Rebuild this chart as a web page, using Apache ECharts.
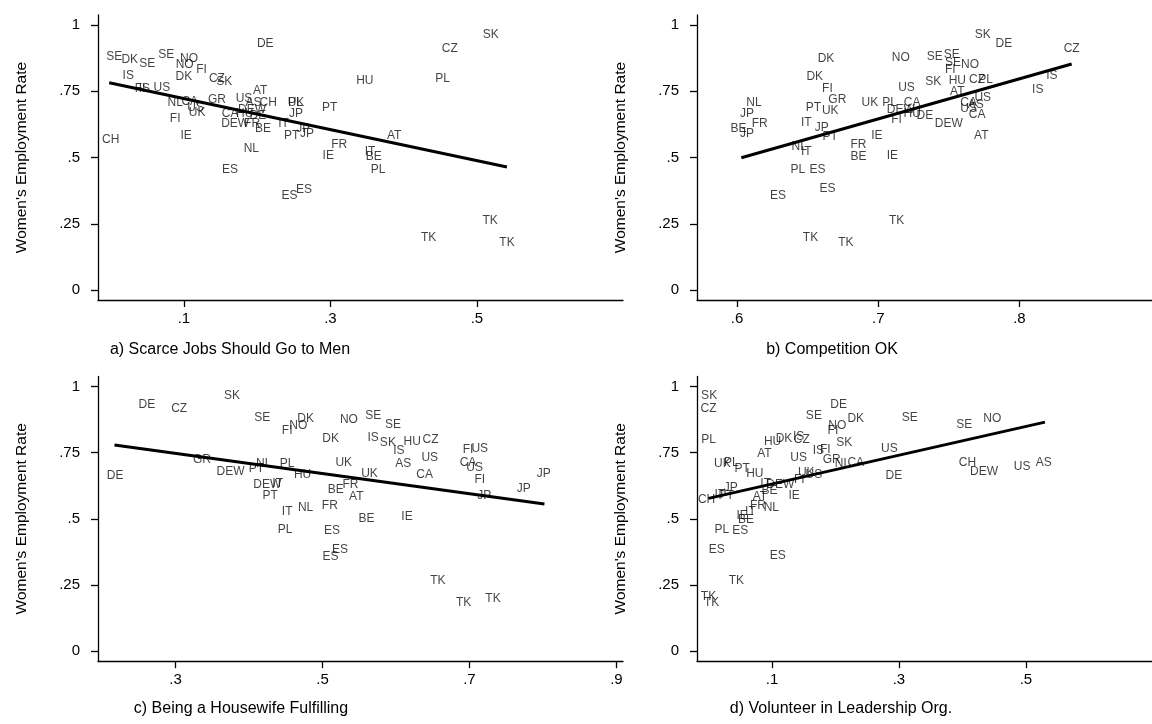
<!DOCTYPE html>
<html><head><meta charset="utf-8">
<script src="https://cdn.jsdelivr.net/npm/echarts@6/dist/echarts.min.js"></script>
<style>html,body{margin:0;padding:0;background:#fff}#c{width:1152px;height:724px}</style>
</head><body><div id="c"></div>
<script>
// Panel a) Scarce Jobs Should Go to Men
const aLabels = ['SE','DK','SE','SE','NO','NO','FI','DK','DE','IS','IS','FI','US','CZ','SK','NL','CA','US','UK','GR','FI','IE','CH','US','AT','AS','CH','CA','HU','DE','DEW','DEW','FR','BE','PL','UK','JP','IT','JP','PT','JP','PT','HU','CZ','SK','PL','AT','FR','IE','IT','BE','PL','NL','ES','ES','ES','TK','TK','TK'];
const aX = [0.005,0.026,0.050,0.076,0.107,0.101,0.124,0.100,0.211,0.024,0.046,0.040,0.070,0.145,0.155,0.088,0.108,0.116,0.118,0.145,0.088,0.103,0.000,0.182,0.204,0.195,0.215,0.163,0.183,0.201,0.193,0.170,0.193,0.208,0.252,0.253,0.253,0.236,0.263,0.247,0.268,0.299,0.347,0.463,0.519,0.453,0.387,0.312,0.297,0.354,0.359,0.365,0.192,0.163,0.244,0.264,0.434,0.518,0.541];
const aY = [0.880,0.870,0.853,0.889,0.874,0.849,0.830,0.805,0.931,0.808,0.758,0.760,0.763,0.796,0.786,0.707,0.709,0.689,0.669,0.720,0.645,0.581,0.566,0.723,0.751,0.707,0.707,0.664,0.664,0.657,0.679,0.629,0.626,0.610,0.706,0.708,0.664,0.629,0.610,0.581,0.589,0.688,0.790,0.909,0.965,0.796,0.581,0.547,0.506,0.522,0.503,0.455,0.535,0.453,0.355,0.380,0.197,0.260,0.178];
const aFit = [[-0.002,0.782],[0.541,0.464]];

// Panel b) Competition OK
const bLabels = ['DK','DK','FI','GR','PT','UK','NL','JP','FR','BE','JP','IT','JP','PT','NL','IT','PL','ES','ES','ES','UK','PL','FR','BE','IE','IE','NO','SE','SE','SE','FI','NO','SK','DE','CZ','US','SK','HU','CZ','PL','AT','CA','DEW','HU','FI','DE','DEW','CA','US','US','AS','CA','AT','IS','IS','TK','TK','TK'];
const bX = [0.663,0.655,0.664,0.671,0.654,0.666,0.612,0.607,0.616,0.601,0.607,0.649,0.660,0.666,0.644,0.649,0.643,0.657,0.664,0.629,0.694,0.708,0.686,0.686,0.699,0.710,0.716,0.740,0.752,0.753,0.751,0.765,0.774,0.789,0.837,0.720,0.739,0.756,0.770,0.776,0.756,0.724,0.716,0.724,0.713,0.733,0.750,0.764,0.774,0.764,0.769,0.770,0.773,0.823,0.813,0.652,0.677,0.713];
const bY = [0.872,0.805,0.758,0.720,0.688,0.675,0.707,0.664,0.626,0.610,0.588,0.631,0.614,0.579,0.541,0.522,0.455,0.453,0.381,0.356,0.707,0.707,0.547,0.503,0.581,0.507,0.877,0.880,0.889,0.859,0.830,0.849,0.965,0.931,0.909,0.764,0.786,0.789,0.795,0.795,0.748,0.707,0.682,0.664,0.644,0.657,0.626,0.707,0.727,0.686,0.701,0.663,0.581,0.808,0.755,0.197,0.178,0.260];
const bFit = [[0.603,0.499],[0.837,0.853]];

// Panel c) Being a Housewife Fulfilling
const cLabels = ['DE','CZ','SK','SE','DK','NO','FI','DE','GR','DEW','NL','PT','PL','HU','DEW','IT','PT','IT','NL','PL','NO','SE','SE','DK','IS','SK','IS','HU','CZ','US','AS','CA','UK','UK','BE','FR','AT','FR','BE','IE','ES','ES','ES','FI','US','CA','US','FI','JP','JP','JP','TK','TK','TK'];
const cX = [0.261,0.305,0.377,0.418,0.477,0.467,0.452,0.218,0.336,0.375,0.420,0.410,0.452,0.473,0.425,0.439,0.429,0.452,0.477,0.449,0.536,0.569,0.596,0.511,0.569,0.589,0.604,0.622,0.647,0.646,0.610,0.639,0.529,0.564,0.518,0.538,0.546,0.510,0.560,0.615,0.513,0.524,0.511,0.698,0.714,0.698,0.707,0.714,0.720,0.774,0.801,0.657,0.692,0.732];
const cY = [0.932,0.915,0.965,0.882,0.879,0.850,0.833,0.662,0.725,0.678,0.710,0.690,0.710,0.668,0.628,0.631,0.586,0.527,0.542,0.458,0.876,0.889,0.854,0.804,0.808,0.788,0.757,0.791,0.798,0.731,0.710,0.665,0.712,0.672,0.609,0.628,0.583,0.548,0.499,0.508,0.454,0.382,0.357,0.762,0.765,0.712,0.693,0.649,0.587,0.615,0.672,0.265,0.183,0.197];
const cFit = [[0.217,0.779],[0.802,0.556]];

// Panel d) Volunteer in Leadership Org.
const dLabels = ['SK','CZ','PL','UK','PL','PT','HU','AT','HU','DK','IS','CZ','US','IS','FI','GR','NL','CA','DE','DK','SE','NO','FI','SK','UK','US','FI','DEW','IE','BE','IT','JP','CH','IT','PT','AT','FR','NL','IT','IE','BE','PL','ES','ES','ES','TK','TK','TK','SE','SE','NO','US','DE','CH','DEW','US','AS'];
const dX = [0.001,0.000,0.000,0.022,0.036,0.053,0.073,0.088,0.101,0.119,0.142,0.147,0.142,0.173,0.184,0.194,0.211,0.232,0.205,0.232,0.166,0.203,0.196,0.214,0.154,0.166,0.143,0.113,0.135,0.096,0.090,0.035,-0.003,0.018,0.028,0.081,0.078,0.099,0.066,0.053,0.059,0.021,0.050,0.013,0.109,0.044,0.000,0.005,0.317,0.403,0.447,0.285,0.292,0.408,0.434,0.494,0.528];
const dY = [0.965,0.915,0.798,0.710,0.712,0.691,0.669,0.747,0.791,0.804,0.810,0.798,0.731,0.757,0.760,0.725,0.710,0.712,0.932,0.877,0.888,0.850,0.833,0.788,0.674,0.668,0.649,0.628,0.586,0.606,0.631,0.619,0.571,0.590,0.586,0.583,0.548,0.542,0.527,0.511,0.495,0.458,0.455,0.382,0.359,0.265,0.204,0.183,0.882,0.854,0.877,0.764,0.662,0.712,0.678,0.695,0.712];
const dFit = [[0.000,0.577],[0.530,0.865]];

const xTicks = {a:[0.1,0.3,0.5], b:[0.6,0.7,0.8], c:[0.3,0.5,0.7,0.9], d:[0.1,0.3,0.5]};
const yTicks = [0,0.25,0.5,0.75,1];
const titles = ['a) Scarce Jobs Should Go to Men','b) Competition OK','c) Being a Housewife Fulfilling','d) Volunteer in Leadership Org.'];
const yTitle = "Women's Employment Rate";

const FONT = "'Liberation Sans', Arial, Helvetica, sans-serif";
const fmt = v => { if (v === 0) return '0'; if (v === 1) return '1'; return String(+v.toFixed(2)).replace(/^0/, ''); };

const panels = [
  {L:aLabels,X:aX,Y:aY,F:aFit,ticks:xTicks.a, grid:{left:98,top:15,width:525,height:285}, xr:[-0.0173,0.6994], yr:[-0.0377,1.0377]},
  {L:bLabels,X:bX,Y:bY,F:bFit,ticks:xTicks.b, grid:{left:697,top:15,width:525,height:285}, xr:[0.5716,0.8939], yr:[-0.0377,1.0377]},
  {L:cLabels,X:cX,Y:cY,F:cFit,ticks:xTicks.c, grid:{left:98,top:376.4,width:525,height:284.8}, xr:[0.1946,0.9089], yr:[-0.0378,1.0378]},
  {L:dLabels,X:dX,Y:dY,F:dFit,ticks:xTicks.d, grid:{left:697,top:376.4,width:525,height:284.8}, xr:[-0.0181,0.6986], yr:[-0.0378,1.0378]}
];

const axisCommon = {
  axisLine:{show:true,onZero:false,lineStyle:{color:'#000',width:1.3}},
  axisTick:{show:true,inside:false,length:7,lineStyle:{color:'#000',width:1.3}},
  splitLine:{show:false}
};

const grid=[], xAxis=[], yAxis=[], series=[];
panels.forEach((p,i)=>{
  grid.push(Object.assign({containLabel:false}, p.grid));
  xAxis.push(Object.assign({}, axisCommon, {
    type:'value', gridIndex:i, min:p.xr[0], max:p.xr[1],
    axisTick:Object.assign({}, axisCommon.axisTick, {customValues:p.ticks}),
    axisLabel:{customValues:p.ticks, formatter:fmt, margin:11, color:'#000', fontSize:15, fontFamily:FONT}
  }));
  yAxis.push(Object.assign({}, axisCommon, {
    type:'value', gridIndex:i, min:p.yr[0], max:p.yr[1],
    axisTick:Object.assign({}, axisCommon.axisTick, {customValues:yTicks}),
    axisLabel:{customValues:yTicks, formatter:fmt, margin:18, color:'#000', fontSize:15, fontFamily:FONT},
    name:yTitle, nameLocation:'middle', nameGap:68,
    nameTextStyle:{color:'#000', fontSize:15.5, fontFamily:FONT}
  }));
  series.push({
    type:'scatter', xAxisIndex:i, yAxisIndex:i, symbolSize:1,
    itemStyle:{color:'rgba(0,0,0,0)'},
    data:p.L.map((n,k)=>({name:n, value:[p.X[k],p.Y[k]]})),
    label:{show:true, position:'inside', formatter:'{b}', color:'#111', fontSize:12, fontFamily:FONT},
    emphasis:{disabled:true}, silent:true
  });
  series.push({
    type:'line', xAxisIndex:i, yAxisIndex:i, data:p.F, symbol:'none',
    lineStyle:{color:'#000', width:3}, silent:true, z:3
  });
});

const titlePos = [[230,350],[832,350],[241,709],[841,709]];
const graphic = titles.map((t,i)=>({
  type:'text', x:titlePos[i][0], y:titlePos[i][1],
  style:{text:t, font:'16px '+FONT, fill:'#000', textAlign:'center', textVerticalAlign:'middle'}
}));

const chart = echarts.init(document.getElementById('c'), null, {renderer:'canvas'});
chart.setOption({animation:false, backgroundColor:'#fff', grid, xAxis, yAxis, series, graphic});
</script></body></html>
